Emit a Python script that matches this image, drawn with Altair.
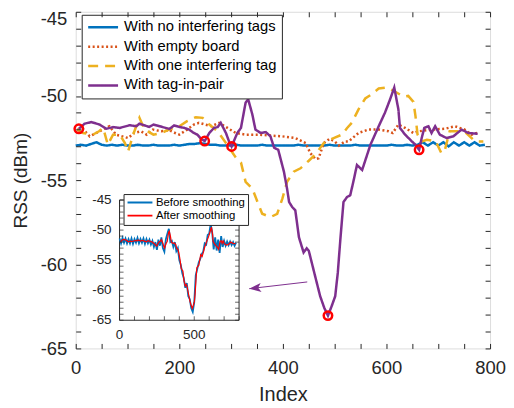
import altair as alt
import pandas as pd

FONT = "Liberation Sans"
AX = "#262626"

series_names = ["With no interfering tags", "With empty board",
                "With one interfering tag", "With tag-in-pair"]
series_colors = ["#0072BD", "#D95319", "#EDB120", "#7E2F8E"]
series_dash = [[1, 0], [2, 2.5], [10, 7], [1, 0]]

# --- main series -------------------------------------------------------
blue_x = list(range(0, 800, 10))
blue_y = [-52.95, -52.9, -52.95, -52.85, -52.75, -52.9, -52.95, -52.9, -52.95, -52.9,
          -52.95, -52.95, -52.9, -52.95, -52.95, -52.9, -52.95, -52.95, -52.95, -52.9,
          -52.95, -52.9, -52.85, -52.85, -52.8, -52.85, -52.9, -52.9, -52.95, -52.95,
          -52.95, -52.9, -52.95, -52.95, -52.95, -52.95, -52.9, -52.95, -52.95, -52.95,
          -52.95, -52.95, -52.95, -52.9, -52.95, -52.95, -52.95, -52.95, -52.95, -52.9,
          -52.95, -52.95, -52.95, -52.95, -52.9, -52.95, -52.95, -52.95, -52.95, -52.95,
          -52.95, -52.9, -52.95, -52.95, -52.9, -52.95, -52.9, -52.75, -52.95, -52.75,
          -52.95, -52.75, -53.0, -52.75, -52.95, -52.75, -52.95, -52.75, -52.95, -52.9]

orange_x = [3, 15, 27, 40, 52, 65, 78, 90, 101, 113, 126, 137, 149, 165, 181, 192, 200,
            215, 228, 238, 250, 262, 277, 293, 309, 328, 354, 375, 399, 424, 444, 453,
            463, 469, 479, 490, 500, 508, 520, 527, 546, 565, 585, 604, 612, 623, 636,
            652, 662, 687, 713, 732, 751, 764, 775]
orange_y = [-52.0, -52.0, -52.4, -52.2, -52.0, -51.8, -52.3, -52.4, -52.5, -52.2, -52.1,
            -52.3, -52.0, -52.1, -52.05, -52.2, -52.3, -52.0, -51.7, -51.6, -51.7, -51.8,
            -51.6, -51.9, -52.2, -52.3, -52.3, -52.35, -52.4, -52.5, -52.8, -53.4, -53.75,
            -53.7, -52.8, -52.55, -52.7, -52.95, -52.7, -52.7, -52.2, -52.0, -52.0, -52.1,
            -52.2, -51.7, -51.9, -52.2, -52.1, -52.0, -51.95, -51.8, -52.0, -52.3, -52.2]

yellow_x = [3, 14, 33, 45, 53, 62, 72, 85, 95, 101, 112, 123, 133, 150, 165, 180, 200,
            215, 232, 245, 258, 274, 290, 309, 319, 328, 341, 351, 360, 376, 389, 399,
            408, 421, 434, 450, 463, 479, 498, 514, 524, 533, 546, 559, 569, 585, 601,
            617, 633, 642, 652, 656, 660, 668, 678, 695, 706, 712, 722, 738, 754, 771, 787]
yellow_y = [-52.0, -52.2, -52.3, -52.1, -51.9, -52.9, -52.3, -52.3, -52.8, -53.3, -52.2,
            -51.3, -52.0, -52.3, -52.2, -52.0, -51.8, -51.5, -51.26, -51.3, -51.7, -52.1,
            -52.8, -53.65, -53.95, -55.1, -55.5, -56.3, -57.0, -57.2, -57.0, -56.1, -55.1,
            -54.5, -54.3, -53.85, -53.46, -52.8, -52.5, -52.3, -51.9, -51.6, -50.8, -50.15,
            -49.95, -49.56, -49.5, -49.75, -50.05, -50.0, -50.35, -51.2, -52.3, -52.7, -52.6,
            -52.7, -53.4, -53.3, -52.1, -52.1, -52.2, -52.7, -52.7]

purple_x = [6, 17, 30, 46, 59, 72, 85, 104, 117, 123, 142, 150, 162, 181, 190, 200, 210,
            219, 228, 235, 242, 249, 258, 267, 274, 280, 290, 296, 301, 312, 319, 328,
            333, 341, 347, 357, 367, 376, 383, 391, 402, 408, 412, 418, 424, 431, 440,
            446, 450, 463, 472, 480, 487, 494, 501, 506, 511, 517, 524, 530, 536, 543,
            553, 569, 585, 597, 607, 615, 623, 626, 636, 649, 656, 663, 668, 673, 681,
            687, 694, 703, 716, 729, 745, 758, 776]
purple_y = [-51.95, -51.65, -51.55, -51.7, -51.95, -51.85, -51.9, -51.74, -51.8, -51.65,
            -51.84, -51.7, -51.8, -51.96, -51.75, -51.84, -51.9, -52.0, -52.2, -52.3,
            -52.55, -52.68, -52.2, -51.9, -51.85, -51.6, -52.2, -52.7, -53.0, -52.2, -51.9,
            -50.4, -50.2, -51.1, -52.0, -52.2, -52.15, -52.4, -53.07, -53.2, -54.5, -55.5,
            -56.3, -56.6, -56.8, -58.4, -59.3, -59.05, -59.2, -60.8, -61.9, -62.6, -63.05,
            -62.5, -61.9, -60.5, -58.5, -56.3, -56.0, -55.9, -55.1, -54.1, -54.4, -52.9,
            -51.8, -51.0, -50.2, -49.5, -50.8, -51.9, -52.3, -52.7, -52.9, -53.2, -52.5,
            -51.9, -51.8, -52.2, -51.8, -52.3, -52.5, -52.4, -52.0, -52.2, -52.25]

marker_x = [6, 249, 301, 487, 663]
marker_y = [-51.95, -52.68, -53.0, -63.05, -53.2]

arrow_x = [447, 335]
arrow_y = [-61.05, -61.45]

# --- inset series --------------------------------------------------------
inset_names = ["Before smoothing", "After smoothing"]
inset_colors = ["#0072BD", "#FF0000"]
raw_x = list(range(0, 790, 10))
raw_y = [-51.4, -52.2, -51.3, -52.1, -51.4, -52.2, -51.5, -52.2, -51.4, -52.3,
         -51.5, -52.1, -51.3, -52.2, -51.5, -52.1, -51.4, -52.3, -51.5, -52.2,
         -51.6, -52.4, -51.8, -52.8, -52.0, -53.3, -51.6, -52.6, -51.2, -53.0,
         -53.6, -51.5, -50.6, -49.8, -52.0, -51.8, -52.8, -52.0, -53.5, -53.0,
         -55.0, -55.8, -57.2, -58.0, -59.6, -58.8, -61.0, -61.5, -63.0, -63.6,
         -62.0, -57.5, -56.5, -55.4, -54.8, -54.0, -53.6, -52.2, -52.4, -50.8,
         -50.6, -49.0, -50.4, -53.2, -51.2, -53.4, -51.6, -53.8, -51.0, -52.8,
         -51.8, -52.6, -51.9, -52.5, -51.9, -52.5, -52.0, -52.6, -52.1]

x_lim = [0, 800]
y_lim = [-65, -45]
inset_xticks = list(range(0, 801, 100))
inset_xlabels = [0, 500]
inset_yticks = list(range(-65, -44, 1))
inset_ylabels = [-65, -60, -55, -50, -45]

# --- tables --------------------------------------------------------------
rows = []
for name, xs_, ys_ in zip(series_names, [blue_x, orange_x, yellow_x, purple_x],
                          [blue_y, orange_y, yellow_y, purple_y]):
    for a, b in zip(xs_, ys_):
        rows.append({"series": name, "x": a, "y": b})
df_main = pd.DataFrame(rows)
df_mark = pd.DataFrame({"x": marker_x, "y": marker_y})
df_arrow = pd.DataFrame({"x": arrow_x, "y": arrow_y})
df_head = df_arrow.iloc[[1]]
df_raw = pd.DataFrame({"x": raw_x, "y": raw_y, "series": inset_names[0]})
df_smooth = pd.DataFrame({"x": purple_x, "y": purple_y, "series": inset_names[1]})
df_box = pd.DataFrame({"x": [x_lim[0]], "x2": [x_lim[1]], "y": [y_lim[0]], "y2": [y_lim[1]]})
df_xt = pd.DataFrame({"x": inset_xticks, "yb": y_lim[0], "yt": y_lim[1]})
df_yt = pd.DataFrame({"y": inset_yticks, "xl": x_lim[0], "xr": x_lim[1]})
df_xl = pd.DataFrame({"x": inset_xlabels, "y": y_lim[0], "t": [str(v) for v in inset_xlabels]})
df_yl = pd.DataFrame({"y": inset_ylabels, "x": x_lim[0], "t": [str(v) for v in inset_ylabels]})

PT, W, H = 3, 416, 338
xs = alt.Scale(domain=x_lim, nice=False, zero=False)
ys = alt.Scale(domain=y_lim, nice=False, zero=False)

tick_in = {"expr": "-5"}
common_axis = dict(grid=False, domain=False, tickColor=AX, tickWidth=1, tickSize=tick_in,
                   labelColor=AX, labelFont=FONT, titleFont=FONT, titleColor=AX,
                   titleFontWeight="normal", zindex=2)

x_bottom = alt.Axis(orient="bottom", values=list(range(0, 801, 50)),
                    labelExpr="datum.value % 200 == 0 ? '' + datum.value : ''",
                    labelFontSize=18.5, labelPadding=15, title="Index", titleFontSize=20,
                    titlePadding=8, labelOverlap=False, labelFlush=False, **common_axis)
y_left = alt.Axis(orient="left", values=list(range(-65, -44, 1)),
                  labelExpr="datum.value % 5 == 0 ? '' + datum.value : ''",
                  labelFontSize=18.5, labelPadding=14, title="RSS (dBm)", titleFontSize=19,
                  titlePadding=10, labelOverlap=False, labelFlush=False,
                  labelOffset={"condition": {"test": "datum.value == -45", "value": 7}, "value": 0},
                  **common_axis)
x_top = alt.Axis(orient="top", values=list(range(0, 801, 50)), labels=False, title=None,
                 **common_axis)
y_right = alt.Axis(orient="right", values=list(range(-65, -44, 1)), labels=False, title=None,
                   **common_axis)

legend_main = alt.Legend(title=None, orient="none", legendX=6, legendY=3,
                         symbolType="stroke", symbolSize=900, symbolStrokeWidth=2.5,
                         clipHeight=15, rowPadding=3.5, labelFont=FONT, labelFontSize=14.8,
                         labelColor="#000000", labelOffset=4.5, padding=5,
                         strokeColor=AX, fillColor="white", cornerRadius=0,
                         labelLimit=400)
color_main = alt.Color("series:N", scale=alt.Scale(domain=series_names, range=series_colors),
                       legend=legend_main)
dash_main = alt.StrokeDash("series:N", scale=alt.Scale(domain=series_names, range=series_dash),
                           legend=legend_main)

lines = alt.Chart(df_main).mark_line(strokeWidth=2.5).encode(
    x=alt.X("x:Q", scale=xs, axis=x_bottom),
    y=alt.Y("y:Q", scale=ys, axis=y_left),
    color=color_main, strokeDash=dash_main)

frame = alt.Chart(df_main).mark_point(opacity=0).encode(
    x=alt.X("x:Q", scale=xs, axis=x_top),
    y=alt.Y("y:Q", scale=ys, axis=y_right))

markers = alt.Chart(df_mark).mark_point(shape="circle", size=72, strokeWidth=2.5,
                                        color="#FF0000", filled=False, opacity=1).encode(
    x=alt.X("x:Q", scale=xs, axis=None), y=alt.Y("y:Q", scale=ys, axis=None))

arrow_line = alt.Chart(df_arrow).mark_line(color="#7E2F8E", strokeWidth=1).encode(
    x=alt.X("x:Q", scale=xs, axis=None), y=alt.Y("y:Q", scale=ys, axis=None))

arrow_head = alt.Chart(df_head).mark_point(
    shape="M0,0L2,-0.75L1.5,0L2,0.75Z", size=144, angle=354, filled=True,
    color="#7E2F8E", opacity=1, strokeWidth=0).encode(
    x=alt.X("x:Q", scale=xs, axis=None), y=alt.Y("y:Q", scale=ys, axis=None))

main = alt.layer(lines, frame, markers, arrow_line, arrow_head).resolve_axis(
    x="independent", y="independent")

# --- inset (own scales, placed inside the plot area) ---------------------
IX0, IX1 = 44, 164
IY0, IY1 = 320.7 - 8 - PT, 200 - 8 - PT
ixs = alt.Scale(domain=x_lim, nice=False, zero=False, range=[IX0, IX1])
iys = alt.Scale(domain=y_lim, nice=False, zero=False, range=[IY0, IY1])
IX = lambda f: alt.X(f, scale=ixs, axis=None)
IY = lambda f: alt.Y(f, scale=iys, axis=None)

legend_inset = alt.Legend(title=None, orient="none", legendX=48, legendY=194 - 8 - PT,
                          symbolType="stroke", symbolSize=625, symbolStrokeWidth=1.8,
                          clipHeight=11, rowPadding=1.2, labelFont=FONT, labelFontSize=11.4,
                          labelColor="#000000", labelOffset=2.5, padding=3,
                          strokeColor=AX, fillColor="white", cornerRadius=0, zindex=3)
color_inset = alt.Color("series:N", scale=alt.Scale(domain=inset_names, range=inset_colors),
                        legend=legend_inset)

box = alt.Chart(df_box).mark_rect(fill="white", stroke=AX, strokeWidth=1).encode(
    x=IX("x:Q"), x2="x2:Q", y=IY("y:Q"), y2="y2:Q")

raw = alt.Chart(df_raw).mark_line(strokeWidth=1.8).encode(
    x=IX("x:Q"), y=IY("y:Q"), color=color_inset)
smooth = alt.Chart(df_smooth).mark_line(strokeWidth=1.2).encode(
    x=IX("x:Q"), y=IY("y:Q"), color=color_inset)

tick_base_x = alt.Chart(df_xt)
xt_bottom = tick_base_x.mark_tick(orient="vertical", size=4, thickness=1, color=AX,
                                  yOffset=-2).encode(x=IX("x:Q"), y=IY("yb:Q"))
xt_top = tick_base_x.mark_tick(orient="vertical", size=4, thickness=1, color=AX,
                               yOffset=2).encode(x=IX("x:Q"), y=IY("yt:Q"))
tick_base_y = alt.Chart(df_yt)
yt_left = tick_base_y.mark_tick(orient="horizontal", size=4, thickness=1, color=AX,
                                xOffset=2).encode(x=IX("xl:Q"), y=IY("y:Q"))
yt_right = tick_base_y.mark_tick(orient="horizontal", size=4, thickness=1, color=AX,
                                 xOffset=-2).encode(x=IX("xr:Q"), y=IY("y:Q"))

xl_text = alt.Chart(df_xl).mark_text(font=FONT, fontSize=13.5, color=AX, baseline="top",
                                     align="center", dy=8).encode(
    x=IX("x:Q"), y=IY("y:Q"), text="t:N")
yl_text = alt.Chart(df_yl).mark_text(font=FONT, fontSize=13.5, color=AX, baseline="middle",
                                     align="right", dx=-8).encode(
    x=IX("x:Q"), y=IY("y:Q"), text="t:N")

inset = alt.layer(box, raw, smooth, xt_bottom, xt_top, yt_left, yt_right, xl_text, yl_text)

chart = alt.layer(main, inset).resolve_scale(
    x="independent", y="independent", color="independent", strokeDash="independent"
).properties(
    width=W, height=H,
    padding={"left": 68, "top": PT, "right": 16, "bottom": 58},
    autosize=alt.AutoSizeParams(type="none"),
).configure_view(stroke=AX, strokeWidth=1).configure(background="white")

chart.save("out.html", embed_options={"renderer": "svg", "actions": False})
